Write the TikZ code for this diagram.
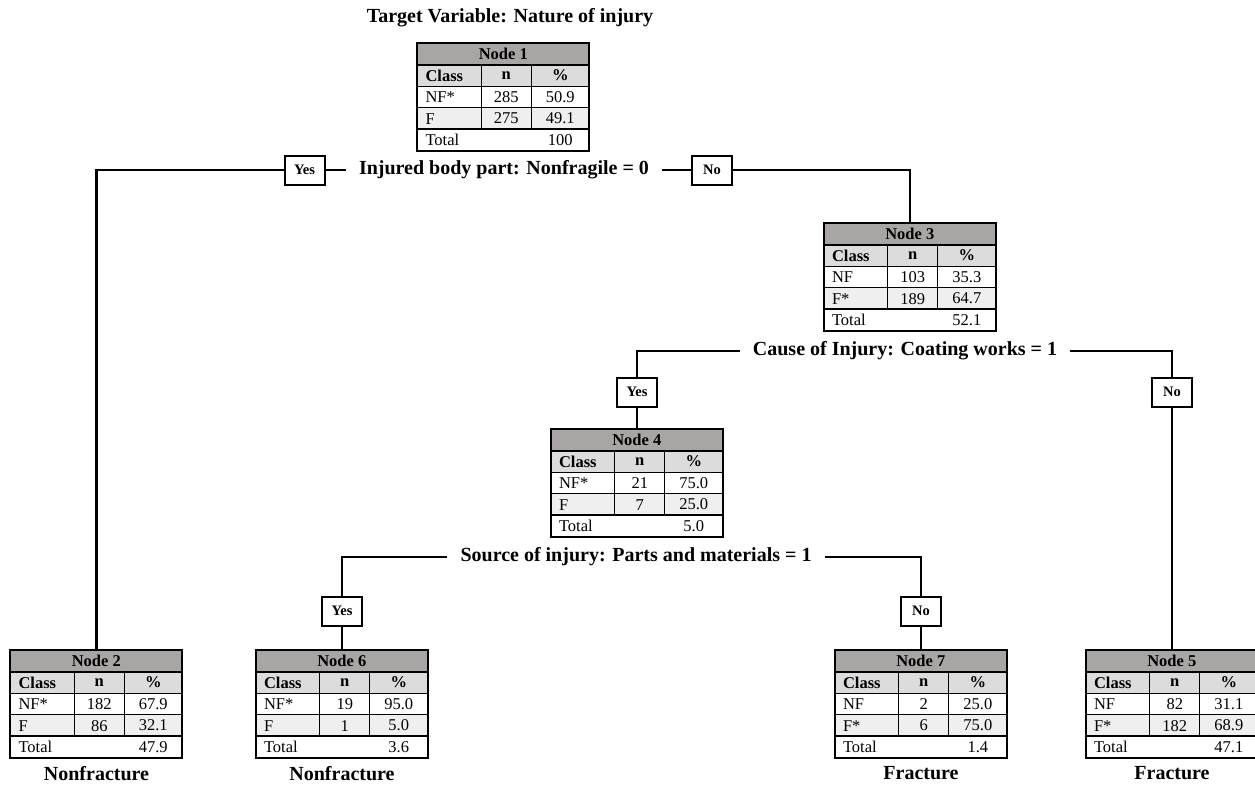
\documentclass[tikz,border=0pt]{standalone}
\usepackage{fontspec}
\setmainfont{Liberation Serif}
\usetikzlibrary{positioning}
\definecolor{hdgray}{HTML}{A9A5A5}
\definecolor{clgray}{HTML}{DCDCDC}
\definecolor{rowgray}{HTML}{EFEFEF}
\tikzset{
  edge/.style={draw=black, line width=2.4pt},
  tblbox/.style={minimum width=172pt, minimum height=108pt, inner sep=0pt, anchor=north},
  tblrule/.style={draw=black, line width=2pt},
  grid/.style={draw=black, line width=1.2pt},
  cell/.style={font=\fontsize{16.5}{18}\selectfont, inner sep=0pt},
  hcell/.style={font=\fontsize{16.5}{18}\selectfont\bfseries, inner sep=0pt},
  split/.style={font=\fontsize{20}{24}\selectfont\bfseries, inner xsep=13pt, inner ysep=2pt},
  ans/.style={draw=black, line width=2pt, fill=white, minimum width=40pt, minimum height=29pt, inner sep=0pt, font=\fontsize{14.5}{16}\selectfont\bfseries},
  leaf/.style={font=\fontsize{20}{24}\selectfont\bfseries},
}
% one node of the tree: name, top centre, number, rows, total
\newcommand{\treetable}[5]{%
  \node[tblbox] (#1) at (#2) {};
  \begin{scope}[shift={(#1.north west)}]
    \fill[hdgray] (0,0) rectangle (172,21.6);
    \fill[clgray] (0,21.6) rectangle (172,43.2);
    \fill[rowgray] (0,64.8) rectangle (172,86.4);
    \draw[grid] (0,43.2) -- (172,43.2) (0,64.8) -- (172,64.8);
    \draw[grid] (64,21.6) -- (64,86.4) (114,21.6) -- (114,86.4);
    \draw[tblrule] (0,21.6) -- (172,21.6) (0,86.4) -- (172,86.4);
    \draw[tblrule] (0,0) rectangle (172,108);
    \node[hcell] at (86,10.8) {Node #3};
    \node[hcell, anchor=west] at (8,32.4) {Class};
    \node[hcell] at (89,32.4) {n};
    \node[hcell] at (143,32.4) {\%};
    \foreach \cls/\cnt/\pct [count=\i from 2] in {#4} {
      \node[cell, anchor=west] at (8,{(\i+0.5)*21.6}) {\cls};
      \node[cell] at (89,{(\i+0.5)*21.6}) {\cnt};
      \node[cell] at (143,{(\i+0.5)*21.6}) {\pct};
    }
    \node[cell, anchor=west] at (8,97.2) {Total};
    \node[cell] at (143,97.2) {#5};
  \end{scope}
}

\begin{document}
\begin{tikzpicture}[x=1pt, y=-1pt]
  \useasboundingbox (0,0) rectangle (1255,787);
  \node[leaf] (title) at (510,18) {Target Variable: Nature of injury};
  % tables
  \treetable{n1}{503.5,43}{1}{NF*/285/50.9, F/275/49.1}{100}
  \treetable{n3}{910,223}{3}{NF/103/35.3, F*/189/64.7}{52.1}
  \treetable{n4}{637,429}{4}{NF*/21/75.0, F/7/25.0}{5.0}
  \treetable{n2}{96.5,650}{2}{NF*/182/67.9, F/86/32.1}{47.9}
  \treetable{n6}{342,650}{6}{NF*/19/95.0, F/1/5.0}{3.6}
  \treetable{n7}{921,650}{7}{NF/2/25.0, F*/6/75.0}{1.4}
  \treetable{n5}{1172,650}{5}{NF/82/31.1, F*/182/68.9}{47.1}
  % splits
  \node[split] (s1) at (504,170) {Injured body part: Nonfragile = 0};
  \node[split] (s2) at (905,351) {Cause of Injury: Coating works = 1};
  \node[split] (s3) at (636,557) {Source of injury: Parts and materials = 1};
  \node[ans] (y1) at (304.5,170) {Yes};
  \node[ans] (no1) at (712,170) {No};
  \node[ans] (y2) at (637,392) {Yes};
  \node[ans] (no2) at (1172,392) {No};
  \node[ans] (y3) at (342,611) {Yes};
  \node[ans] (no3) at (921,611) {No};
  % connectors
  \draw[edge] (s1.west) -- (y1.east);
  \draw[edge] (y1.west) -| (n2.north);
  \draw[edge] (s1.east) -- (no1.west);
  \draw[edge] (no1.east) -| (n3.north);
  \draw[edge] (s2.west) -| (y2.north);
  \draw[edge] (y2.south) -- (n4.north);
  \draw[edge] (s2.east) -| (no2.north);
  \draw[edge] (no2.south) -- (n5.north);
  \draw[edge] (s3.west) -| (y3.north);
  \draw[edge] (y3.south) -- (n6.north);
  \draw[edge] (s3.east) -| (no3.north);
  \draw[edge] (no3.south) -- (n7.north);
  % outcomes
  \node[leaf, below=4pt of n2] (l2) {Nonfracture};
  \node[leaf, below=4pt of n6] (l6) {Nonfracture};
  \node[leaf, below=4pt of n7] (l7) {Fracture};
  \node[leaf, below=4pt of n5] (l5) {Fracture};
\end{tikzpicture}
\end{document}
